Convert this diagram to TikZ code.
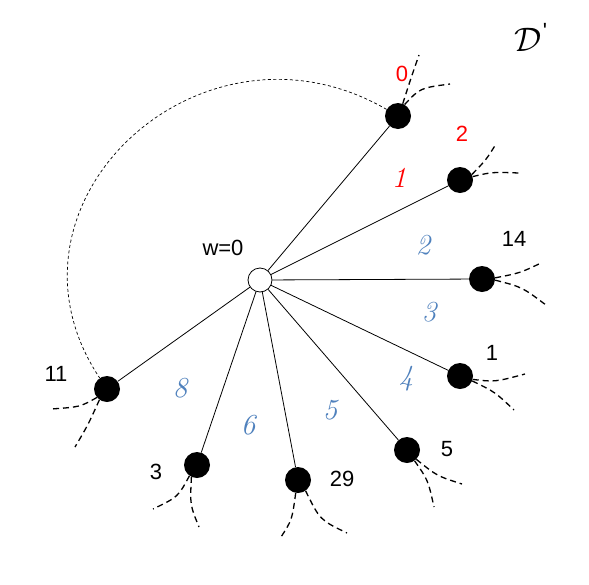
\RequirePackage{fix-cm}
\documentclass[tikz,border=0pt]{standalone}
\usepackage{fontspec}
\newfontfamily\sansf{Liberation Sans}
\definecolor{myblue}{RGB}{79,129,189}
\begin{document}
\begin{tikzpicture}[x=1pt,y=-1pt,
  bnode/.style={circle,fill=black,minimum size=26pt,inner sep=0pt},
  wnode/.style={circle,draw=black,fill=white,line width=0.8pt,minimum size=24pt,inner sep=0pt},
  spoke/.style={line width=0.8pt},
  half/.style={line width=1.3pt,dash pattern=on 6pt off 4pt},
  loopedge/.style={line width=0.7pt,dash pattern=on 3pt off 2.5pt},
  lbl/.style={font=\sansf\fontsize{22}{22}\selectfont,inner sep=0pt},
  rlbl/.style={lbl,text=red},
  ilbl/.style={font=\fontsize{29}{29}\selectfont\itshape,inner sep=0pt},
  blbl/.style={ilbl,text=myblue},
  rilbl/.style={ilbl,text=red},
]
\useasboundingbox (0,0) rectangle (589,584);
\fill[white] (0,0) rectangle (589,584);

% nodes
\node[wnode] (w) at (260,280) {};
\node[bnode] (n0) at (398,116) {};
\node[bnode] (n1) at (460,180) {};
\node[bnode] (n14) at (482,279) {};
\node[bnode] (n1b) at (460,376) {};
\node[bnode] (n5) at (407,450) {};
\node[bnode] (n29) at (298,480) {};
\node[bnode] (n3) at (197,465) {};
\node[bnode] (n11) at (107,389) {};

% spokes
\foreach \n in {n0,n1,n14,n1b,n5,n29,n3,n11}
  \draw[spoke] (w) -- (\n);

% big dashed arc
\draw[loopedge] (n0) .. controls (201,2) and (-16,204) .. (n11);

% free ends
\coordinate (e0a) at (419,55);
\coordinate (e0b) at (450,84);
\coordinate (e1a) at (496,144);
\coordinate (e1b) at (519,173);
\coordinate (e14a) at (541,263);
\coordinate (e14b) at (546,305);
\coordinate (e1ba) at (525,374);
\coordinate (e1bb) at (514,410);
\coordinate (e5a) at (462,484);
\coordinate (e5b) at (434,507);
\coordinate (e29a) at (281,537);
\coordinate (e29b) at (347,533);
\coordinate (e3a) at (153,509);
\coordinate (e3b) at (199,527);
\coordinate (e11a) at (51,409);
\coordinate (e11b) at (75,447);

% half edges
\draw[half] (n0.69) .. controls (411,78) .. (e0a);
\draw[half] (n0.60) .. controls (420,88) .. (e0b);
\draw[half] (n1.25) .. controls (486,160) .. (e1a);
\draw[half] (n1.15) .. controls (492,172) .. (e1b);
\draw[half] (n14.5) .. controls (520,273) .. (e14a);
\draw[half] (n14.-5) .. controls (522,287) .. (e14b);
\draw[half] (n1b.-15) .. controls (495,382) .. (e1ba);
\draw[half] (n1b.-22) .. controls (495,392) .. (e1bb);
\draw[half] (n5.-45) .. controls (437,476) .. (e5a);
\draw[half] (n5.-55) .. controls (428,480) .. (e5b);
\draw[half] (n29.-100) .. controls (292,520) .. (e29a);
\draw[half] (n29.-55) .. controls (320,520) .. (e29b);
\draw[half] (n3.-125) .. controls (178,497) .. (e3a);
\draw[half] (n3.-115) .. controls (190,505) .. (e3b);
\draw[half] (n11.-140) .. controls (80,407) .. (e11a);
\draw[half] (n11.-125) .. controls (88,425) .. (e11b);

% labels
\node[lbl] (lw) at (223,248) {w=0};
\node[lbl] (l14) at (514,239) {14};
\node[lbl] (l1) at (492,353) {1};
\node[lbl] (l5) at (447,449) {5};
\node[lbl] (l29) at (342,479) {29};
\node[lbl] (l3) at (156,472) {3};
\node[lbl] (l11) at (56,374) {11};
\node[rlbl] (r0) at (402,74) {0};
\node[rlbl] (r2) at (462,134) {2};
\node[rilbl] (r1) at (399,178) {1};
\node[blbl] (b2) at (423,245) {2};
\node[blbl] (b3) at (429,312) {3};
\node[blbl] (b4) at (406,379) {4};
\node[blbl] (b5) at (330,410) {5};
\node[blbl] (b6) at (248,425) {6};
\node[blbl] (b8) at (180,388) {8};
\node[inner sep=0pt,font=\fontsize{34}{34}\selectfont] (dp) at (528,40) {$\mathcal{D}$};
\node[lbl,font=\sansf\fontsize{22}{22}\selectfont] (pr) at (545,31) {'};
\end{tikzpicture}
\end{document}
